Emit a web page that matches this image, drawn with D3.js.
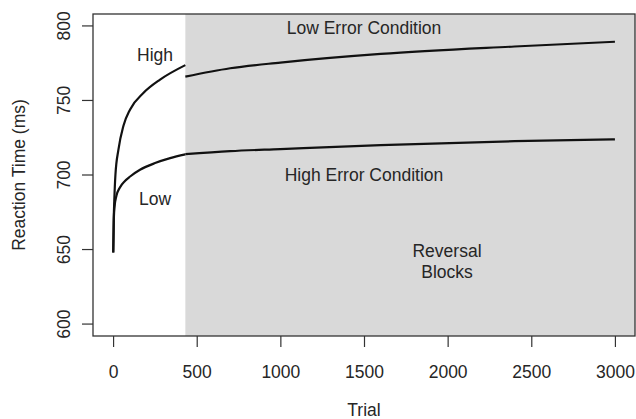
<!DOCTYPE html>
<html>
<head>
<meta charset="utf-8">
<script src="https://cdn.jsdelivr.net/npm/d3@7"></script>
<style>
  body { margin: 0; background: #fff; }
  text { font-family: "Liberation Sans", Arial, sans-serif; fill: #262626; }
</style>
</head>
<body>
<svg id="chart" width="636" height="419"></svg>
<script>
// values
const learnTrials = [1, 4, 8, 14, 32, 62, 102, 181, 281, 432];
const learnHigh = [648, 670, 685, 700, 717, 733, 744, 755, 764, 773.7];
const learnLowTrials = [1, 4, 8, 20, 40, 71, 102, 161, 251, 341, 432];
const learnLow = [648, 668, 678, 686, 691.5, 696, 699, 703.5, 708, 711.3, 713.8];
const revTrials = [432, 700, 1000, 1600, 2400, 3000];
const revHigh = [766, 771.6, 775.4, 781.2, 786.2, 789.4];
const revLow = [714, 716, 717.4, 720.1, 722.7, 723.9];
const reversalStart = 432;
const xTicks = [0, 500, 1000, 1500, 2000, 2500, 3000];
const yTicks = [600, 650, 700, 750, 800];

const svg = d3.select("#chart");
const plotL = 93, plotR = 635, plotT = 14, plotB = 336;
const fontSize = "17.5px";

const x = d3.scaleLinear().domain([-120, 3120]).range([plotL, plotR]);
const y = d3.scaleLinear().domain([592, 808]).range([plotB, plotT]);

// shaded reversal region
svg.append("rect")
  .attr("x", x(reversalStart)).attr("y", plotT)
  .attr("width", plotR - x(reversalStart)).attr("height", plotB - plotT)
  .attr("fill", "#d9d9d9");

const line = d3.line().x(d => x(d[0])).y(d => y(d[1])).curve(d3.curveMonotoneX);
const curves = [
  d3.zip(learnTrials, learnHigh),
  d3.zip(learnLowTrials, learnLow),
  d3.zip(revTrials, revHigh),
  d3.zip(revTrials, revLow)
];
svg.append("g").selectAll("path").data(curves).join("path")
  .attr("d", line)
  .attr("fill", "none")
  .attr("stroke", "#111")
  .attr("stroke-width", 2.2);

// box
svg.append("rect")
  .attr("x", plotL).attr("y", plotT)
  .attr("width", plotR - plotL).attr("height", plotB - plotT)
  .attr("fill", "none").attr("stroke", "#333").attr("stroke-width", 1.3);

// axes
const xAxis = svg.append("g").attr("transform", `translate(0,${plotB})`)
  .call(d3.axisBottom(x).tickValues(xTicks).tickSize(11).tickFormat(d3.format("d")));
const yAxis = svg.append("g").attr("transform", `translate(${plotL},0)`)
  .call(d3.axisLeft(y).tickValues(yTicks).tickSize(11).tickFormat(d3.format("d")));
[xAxis, yAxis].forEach(a => {
  a.select(".domain").remove();
  a.selectAll(".tick line").attr("stroke", "#333").attr("stroke-width", 1.2);
  a.selectAll("text").style("font-size", fontSize).attr("fill", "#262626");
});
xAxis.selectAll("text").attr("dy", null).attr("y", 42);
yAxis.selectAll(".tick").attr("transform", null);
yAxis.selectAll("text")
  .attr("x", null).attr("dy", null)
  .attr("text-anchor", "middle")
  .attr("transform", d => `translate(${70 - plotL},${y(d)}) rotate(-90)`)
  .attr("y", 0);
yAxis.selectAll(".tick line").attr("transform", d => `translate(0,${y(d)})`);

// axis titles
svg.append("text").attr("x", 364).attr("y", 416)
  .attr("text-anchor", "middle").style("font-size", fontSize).text("Trial");
svg.append("text").attr("transform", `translate(25,${(plotT + plotB) / 2}) rotate(-90)`)
  .attr("text-anchor", "middle").style("font-size", fontSize).text("Reaction Time (ms)");

// annotations
const notes = [
  ["High", 155, 61],
  ["Low", 155, 205],
  ["Low Error Condition", 364, 34],
  ["High Error Condition", 364, 181],
  ["Reversal", 447, 257],
  ["Blocks", 447, 278]
];
svg.append("g").selectAll("text").data(notes).join("text")
  .attr("x", d => d[1]).attr("y", d => d[2])
  .attr("text-anchor", "middle").style("font-size", fontSize)
  .text(d => d[0]);
</script>
</body>
</html>
